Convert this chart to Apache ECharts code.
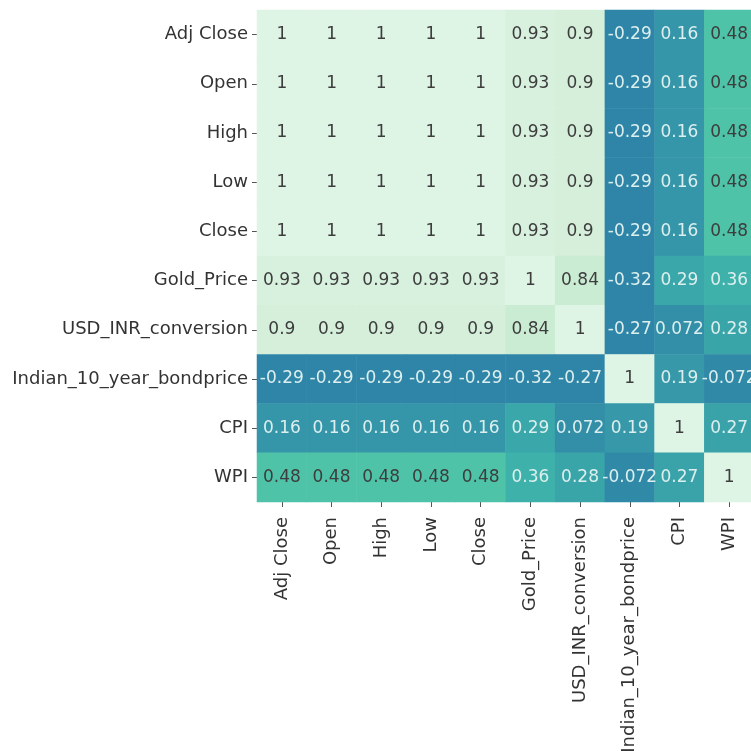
<!DOCTYPE html>
<html>
<head>
<meta charset="utf-8">
<script src="https://cdn.jsdelivr.net/npm/echarts@6/dist/echarts.min.js"></script>
<style>
  html, body { margin: 0; padding: 0; background: #fff; }
  #chart { width: 751px; height: 751px; }
</style>
</head>
<body>
<div id="chart"></div>
<script>
// correlation matrix, rows top to bottom
const names = ['Adj Close', 'Open', 'High', 'Low', 'Close', 'Gold_Price',
  'USD_INR_conversion', 'Indian_10_year_bondprice', 'CPI', 'WPI'];

const rowAdjClose = [1, 1, 1, 1, 1, 0.93, 0.9, -0.29, 0.16, 0.48];
const rowOpen     = [1, 1, 1, 1, 1, 0.93, 0.9, -0.29, 0.16, 0.48];
const rowHigh     = [1, 1, 1, 1, 1, 0.93, 0.9, -0.29, 0.16, 0.48];
const rowLow      = [1, 1, 1, 1, 1, 0.93, 0.9, -0.29, 0.16, 0.48];
const rowClose    = [1, 1, 1, 1, 1, 0.93, 0.9, -0.29, 0.16, 0.48];
const rowGold     = [0.93, 0.93, 0.93, 0.93, 0.93, 1, 0.84, -0.32, 0.29, 0.36];
const rowUsdInr   = [0.9, 0.9, 0.9, 0.9, 0.9, 0.84, 1, -0.27, 0.072, 0.28];
const rowBond     = [-0.29, -0.29, -0.29, -0.29, -0.29, -0.32, -0.27, 1, 0.19, -0.072];
const rowCpi      = [0.16, 0.16, 0.16, 0.16, 0.16, 0.29, 0.072, 0.19, 1, 0.27];
const rowWpi      = [0.48, 0.48, 0.48, 0.48, 0.48, 0.36, 0.28, -0.072, 0.27, 1];

const rows = [rowAdjClose, rowOpen, rowHigh, rowLow, rowClose, rowGold, rowUsdInr, rowBond, rowCpi, rowWpi];

const data = [];
rows.forEach((row, r) => {
  row.forEach((v, c) => {
    data.push({
      value: [c, r, v],
      label: { color: v > 0.42 ? '#3d3d3d' : '#dcefee' }
    });
  });
});

const myChart = echarts.init(document.getElementById('chart'));
const option = {
  animation: false,
  grid: { left: 257, top: 10, width: 497, height: 492, outerBoundsMode: 'none', containLabel: false },
  xAxis: {
    type: 'category',
    data: names,
    axisLine: { show: false },
    axisTick: { show: true, alignWithLabel: true, length: 5, lineStyle: { color: '#555' } },
    splitArea: { show: false },
    axisLabel: {
      rotate: 90, interval: 0, margin: 15,
      fontFamily: 'DejaVu Sans', fontSize: 18, color: '#333'
    }
  },
  yAxis: {
    type: 'category',
    data: names,
    inverse: true,
    axisLine: { show: false },
    axisTick: { show: true, alignWithLabel: true, length: 5, lineStyle: { color: '#555' } },
    axisLabel: {
      interval: 0, margin: 9,
      fontFamily: 'DejaVu Sans', fontSize: 18, color: '#333'
    }
  },
  visualMap: {
    show: false,
    type: 'continuous',
    min: -0.3,
    max: 1,
    dimension: 2,
    inRange: {
      color: ['#2e85a7', '#2f87a7', '#3089a7', '#338fa8', '#379ba9', '#3db1aa',
        '#4ec3a8', '#80d5b2', '#b0e4c3', '#d2eed8', '#def4e5']
    }
  },
  series: [{
    type: 'heatmap',
    data: data,
    label: {
      show: true,
      fontFamily: 'DejaVu Sans',
      fontSize: 17,
      formatter: p => String(p.value[2])
    },
    itemStyle: { borderWidth: 0 }
  }]
};
myChart.setOption(option);
</script>
</body>
</html>
